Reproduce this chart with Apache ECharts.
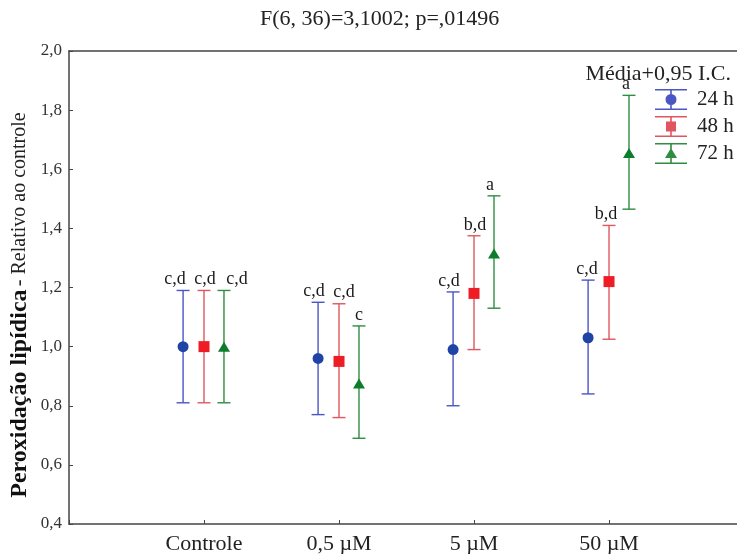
<!DOCTYPE html>
<html>
<head>
<meta charset="utf-8">
<style>
  html, body { margin: 0; padding: 0; background: #fff; }
  #chart { width: 737px; height: 554px; }
</style>
<script src="https://cdn.jsdelivr.net/npm/echarts@6/dist/echarts.min.js"></script>
</head>
<body>
<div id="chart"></div>
<script>
// data
var categories = ['Controle', '0,5 µM', '5 µM', '50 µM'];

var mean24 = [1.00, 0.96, 0.99, 1.03];
var low24 = [0.81, 0.77, 0.80, 0.84];
var high24 = [1.19, 1.15, 1.185, 1.225];
var letters24 = ['c,d', 'c,d', 'c,d', 'c,d'];

var mean48 = [1.00, 0.95, 1.18, 1.22];
var low48 = [0.81, 0.76, 0.99, 1.025];
var high48 = [1.19, 1.145, 1.375, 1.41];
var letters48 = ['c,d', 'c,d', 'b,d', 'b,d'];

var mean72 = [1.00, 0.875, 1.315, 1.655];
var low72 = [0.81, 0.69, 1.13, 1.465];
var high72 = [1.19, 1.07, 1.51, 1.85];
var letters72 = ['c,d', 'c', 'a', 'a'];

var yTicks = [0.4, 0.6, 0.8, 1.0, 1.2, 1.4, 1.6, 1.8, 2.0];

// layout only: small horizontal nudges (px) so the letters don't collide
var shift24 = [-8, -4, -4, -1];
var shift48 = [1, 5, 1, -3];
var shift72 = [13, 0, -4, -3];

var serif = 'Liberation Serif';

// legend icons: error bar with caps + marker
var iconCircle = 'path://M0 0H32V1.6H0Z M0 19.4H32V21H0Z M15.2 0H16.8V21H15.2Z M10.5 10.5A5.5 5.5 0 1 1 21.5 10.5A5.5 5.5 0 1 1 10.5 10.5Z';
var iconSquare = 'path://M0 0H32V1.6H0Z M0 19.4H32V21H0Z M15.2 0H16.8V21H15.2Z M11 5.5H21V15.5H11Z';
var iconTriangle = 'path://M0 0H32V1.6H0Z M0 19.4H32V21H0Z M15.2 0H16.8V21H15.2Z M16 5L22 15H10Z';

function groupData(offset, mean, low, high, letters, shift) {
  return mean.map(function (m, i) {
    return { bar: [i + 1 + offset, low[i], high[i], letters[i], shift[i]], pt: [i + 1 + offset, m] };
  });
}

function errorSeries(name, color, rows) {
  return {
    name: name,
    type: 'custom',
    silent: true,
    itemStyle: { color: color },
    data: rows.map(function (r) { return r.bar; }),
    encode: { x: 0, y: [1, 2] },
    renderItem: function (params, api) {
      var x = api.value(0);
      var top = api.coord([x, api.value(2)]);
      var bot = api.coord([x, api.value(1)]);
      var w = 6.5;
      var st = { stroke: color, lineWidth: 1.4 };
      return {
        type: 'group',
        children: [
          { type: 'line', shape: { x1: top[0], y1: top[1], x2: bot[0], y2: bot[1] }, style: st },
          { type: 'line', shape: { x1: top[0] - w, y1: top[1], x2: top[0] + w, y2: top[1] }, style: st },
          { type: 'line', shape: { x1: bot[0] - w, y1: bot[1], x2: bot[0] + w, y2: bot[1] }, style: st },
          {
            type: 'text',
            style: {
              text: api.value(3), x: top[0] + api.value(4), y: top[1] - 2,
              align: 'center', verticalAlign: 'bottom',
              font: '18px "Liberation Serif"', fill: '#1a1a1a'
            }
          }
        ]
      };
    },
    z: 2
  };
}

function pointSeries(name, color, symbol, size, rows) {
  return {
    name: name,
    type: 'scatter',
    symbol: symbol,
    symbolSize: size,
    itemStyle: { color: color, opacity: 1 },
    data: rows.map(function (r) { return r.pt; }),
    z: 3
  };
}

var g24 = groupData(-0.155, mean24, low24, high24, letters24, shift24);
var g48 = groupData(0, mean48, low48, high48, letters48, shift48);
var g72 = groupData(0.148, mean72, low72, high72, letters72, shift72);

var chart = echarts.init(document.getElementById('chart'));
chart.setOption({
  animation: false,
  backgroundColor: '#fff',
  title: [{
    text: 'F(6, 36)=3,1002; p=,01496',
    left: 255, top: 3,
    textStyle: { fontFamily: serif, fontSize: 22, fontWeight: 'normal', color: '#222' }
  }, {
    text: 'Média+0,95 I.C.',
    right: 1, top: 58,
    textStyle: { fontFamily: serif, fontSize: 22, fontWeight: 'normal', color: '#222' }
  }],
  legend: {
    orient: 'vertical',
    left: 650, top: 84,
    itemWidth: 32, itemHeight: 21, itemGap: 6,
    textStyle: { fontFamily: serif, fontSize: 21, color: '#222', padding: [0, 0, 0, 5] },
    data: [
      { name: '24 h', icon: iconCircle },
      { name: '48 h', icon: iconSquare },
      { name: '72 h', icon: iconTriangle }
    ]
  },
  graphic: [{
    type: 'text',
    x: 20, y: 305,
    rotation: Math.PI / 2,
    style: {
      text: '{b|Peroxidação lipídica} {r|- Relativo ao controle}',
      align: 'center', verticalAlign: 'middle',
      rich: {
        b: { fontFamily: serif, fontSize: 24, fontWeight: 'bold', fill: '#111' },
        r: { fontFamily: serif, fontSize: 20, fill: '#222' }
      }
    }
  }],
  grid: {
    left: 69, right: 0, top: 51, bottom: 30,
    outerBoundsMode: 'none'
  },
  xAxis: [{
    type: 'value', min: 0, max: 4.948, interval: 1,
    axisLine: { lineStyle: { color: '#444', width: 1.5 } },
    axisTick: { inside: true, length: 4, lineStyle: { color: '#444' } },
    splitLine: { show: false },
    axisLabel: {
      margin: 9, fontFamily: serif, fontSize: 22, color: '#222',
      showMaxLabel: false,
      formatter: function (v) { return categories[Math.round(v) - 1] || ''; }
    }
  }, {
    type: 'value', position: 'top', min: 0, max: 4.948,
    axisLine: { show: true, lineStyle: { color: '#444', width: 1.5 } },
    axisTick: { show: false }, axisLabel: { show: false }, splitLine: { show: false }
  }],
  yAxis: {
    type: 'value', min: yTicks[0], max: yTicks[yTicks.length - 1], interval: 0.2,
    axisLine: { show: true, lineStyle: { color: '#444', width: 1.5 } },
    axisTick: { show: true, inside: true, length: 4, lineStyle: { color: '#444' } },
    splitLine: { show: false },
    axisLabel: {
      margin: 7, fontFamily: serif, fontSize: 17, color: '#333',
      formatter: function (v) { return v.toFixed(1).replace('.', ','); }
    }
  },
  series: [
    errorSeries('24 h', '#4a56c4', g24),
    errorSeries('48 h', '#df5660', g48),
    errorSeries('72 h', '#2f8d40', g72),
    pointSeries('24 h', '#1f44a6', 'circle', 11, g24),
    pointSeries('48 h', '#ee1c25', 'rect', 11, g48),
    pointSeries('72 h', '#0c7d2c', 'triangle', [12, 10], g72)
  ]
});
</script>
</body>
</html>
